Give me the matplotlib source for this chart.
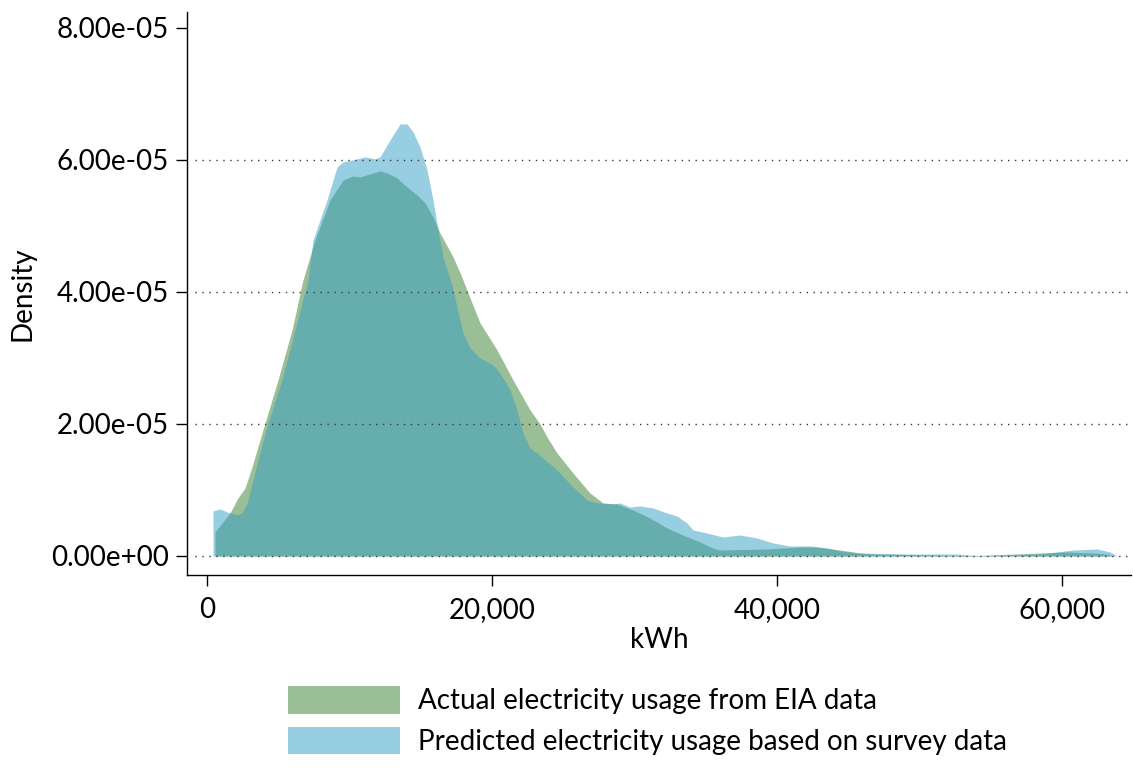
import numpy as np
import matplotlib
matplotlib.use("Agg")
import matplotlib.pyplot as plt
from matplotlib.ticker import FuncFormatter

plt.rcParams['font.family'] = ['Lato', 'DejaVu Sans']

# kernel density of annual household electricity use (kWh)
kwh_actual = [561, 561, 1614, 2175, 2667, 3158, 4070, 4982, 5965, 6737, 7579,
              8632, 9544, 10246, 10737, 11439, 12140, 12631, 13333, 14035,
              14737, 15298, 15860, 16351, 17263, 17824, 18316, 19158, 20351,
              21474, 22667, 23368, 23860, 24561, 25684, 26877, 27789, 28772,
              29895, 31088, 32281, 33403, 34596, 35509, 36000, 39298, 41614,
              42807, 43930, 44421, 45824, 46737, 53754, 58456, 60351, 62175,
              63158, 63579]
dens_actual = np.array([0.0, 0.364, 0.651, 0.879, 1.030, 1.348, 2.015, 2.666,
                        3.424, 4.181, 4.787, 5.393, 5.696, 5.757, 5.742, 5.787,
                        5.833, 5.803, 5.727, 5.590, 5.469, 5.348, 5.136, 4.893,
                        4.530, 4.257, 3.984, 3.530, 3.121, 2.666, 2.212, 2.000,
                        1.803, 1.560, 1.257, 0.954, 0.803, 0.788, 0.697, 0.576,
                        0.424, 0.318, 0.212, 0.121, 0.091, 0.106, 0.136, 0.136,
                        0.106, 0.091, 0.045, 0.030, 0.005, 0.045, 0.061, 0.045,
                        0.030, 0.0]) * 1e-5

kwh_pred = [421, 421, 912, 1404, 1754, 2105, 2456, 2807, 3579, 4281, 5263,
            6175, 7088, 7439, 8421, 9123, 9544, 10246, 11088, 11790, 12140,
            12842, 13544, 14035, 14456, 14947, 15439, 15860, 16210, 16561,
            17193, 17544, 17965, 18456, 19158, 20070, 20561, 21263, 21754,
            22175, 22667, 23579, 24561, 25684, 26667, 27368, 28491, 28982,
            29684, 30386, 31298, 32281, 32982, 33684, 34105, 35088, 36210,
            37403, 38596, 39719, 40912, 42316, 43509, 44421, 45824, 49123,
            52631, 54245, 56140, 58456, 60772, 62456, 63368, 63860]
dens_pred = np.array([0.0, 0.682, 0.712, 0.667, 0.651, 0.621, 0.651, 0.800,
                      1.454, 2.015, 2.666, 3.424, 4.181, 4.787, 5.393, 5.893,
                      5.969, 6.000, 6.045, 6.015, 6.045, 6.302, 6.545, 6.545,
                      6.424, 6.196, 5.848, 5.393, 4.939, 4.530, 4.106, 3.772,
                      3.378, 3.151, 3.000, 2.894, 2.772, 2.515, 2.212, 1.863,
                      1.636, 1.485, 1.303, 1.045, 0.848, 0.803, 0.788, 0.803,
                      0.742, 0.758, 0.727, 0.651, 0.606, 0.500, 0.394, 0.348,
                      0.288, 0.318, 0.273, 0.197, 0.152, 0.152, 0.121, 0.076,
                      0.045, 0.030, 0.030, 0.005, 0.015, 0.030, 0.091, 0.106,
                      0.061, 0.0]) * 1e-5

labels = ["Actual electricity usage from EIA data",
          "Predicted electricity usage based on survey data"]
yticks = [0, 2e-5, 4e-5, 6e-5, 8e-5]
xticks = [0, 20000, 40000, 60000]

fig = plt.figure(figsize=(11.33, 7.69), dpi=100)
ax = fig.add_axes([187 / 1133, 1 - 575 / 769, (1131 - 187) / 1133, (575 - 12) / 769])

g = ax.fill_between(kwh_actual, dens_actual, color='#377f2f', alpha=0.5, lw=0, zorder=1)
b = ax.fill_between(kwh_pred, dens_pred, color='#339fc5', alpha=0.5, lw=0, zorder=2)

# dotted grid lines drawn over the densities
for yv in yticks[:-1]:
    ax.axhline(yv, xmin=0.0085, xmax=1, color='#3a3a3a', lw=1.0,
               ls=(0, (1, 4)), zorder=3)

ax.set_xlim(-1404, 64842)
ax.set_ylim(-2.88e-6, 8.24e-5)
ax.set_xticks(xticks)
ax.set_yticks(yticks)
ax.xaxis.set_major_formatter(FuncFormatter(lambda v, p: '{:,.0f}'.format(v)))
ax.yaxis.set_major_formatter(FuncFormatter(lambda v, p: '%.2e' % v))
ax.tick_params(axis='both', length=8, width=1, color='black', labelsize=20)
ax.tick_params(axis='x', pad=8)
ax.tick_params(axis='y', pad=5)

for s in ['top', 'right']:
    ax.spines[s].set_visible(False)
for s in ['left', 'bottom']:
    ax.spines[s].set_linewidth(1.0)

ax.set_xlabel('kWh', fontsize=20, labelpad=3)
ax.set_ylabel('Density', fontsize=20, labelpad=11)

fig.legend([g, b], labels, loc='upper left',
           bbox_to_anchor=(288 / 1133, 1 - 686 / 769), frameon=False,
           fontsize=20, handlelength=4.03, handleheight=1.15,
           handletextpad=0.65, labelspacing=0.45, borderpad=0, borderaxespad=0)

fig.savefig('out.png', dpi=100)
